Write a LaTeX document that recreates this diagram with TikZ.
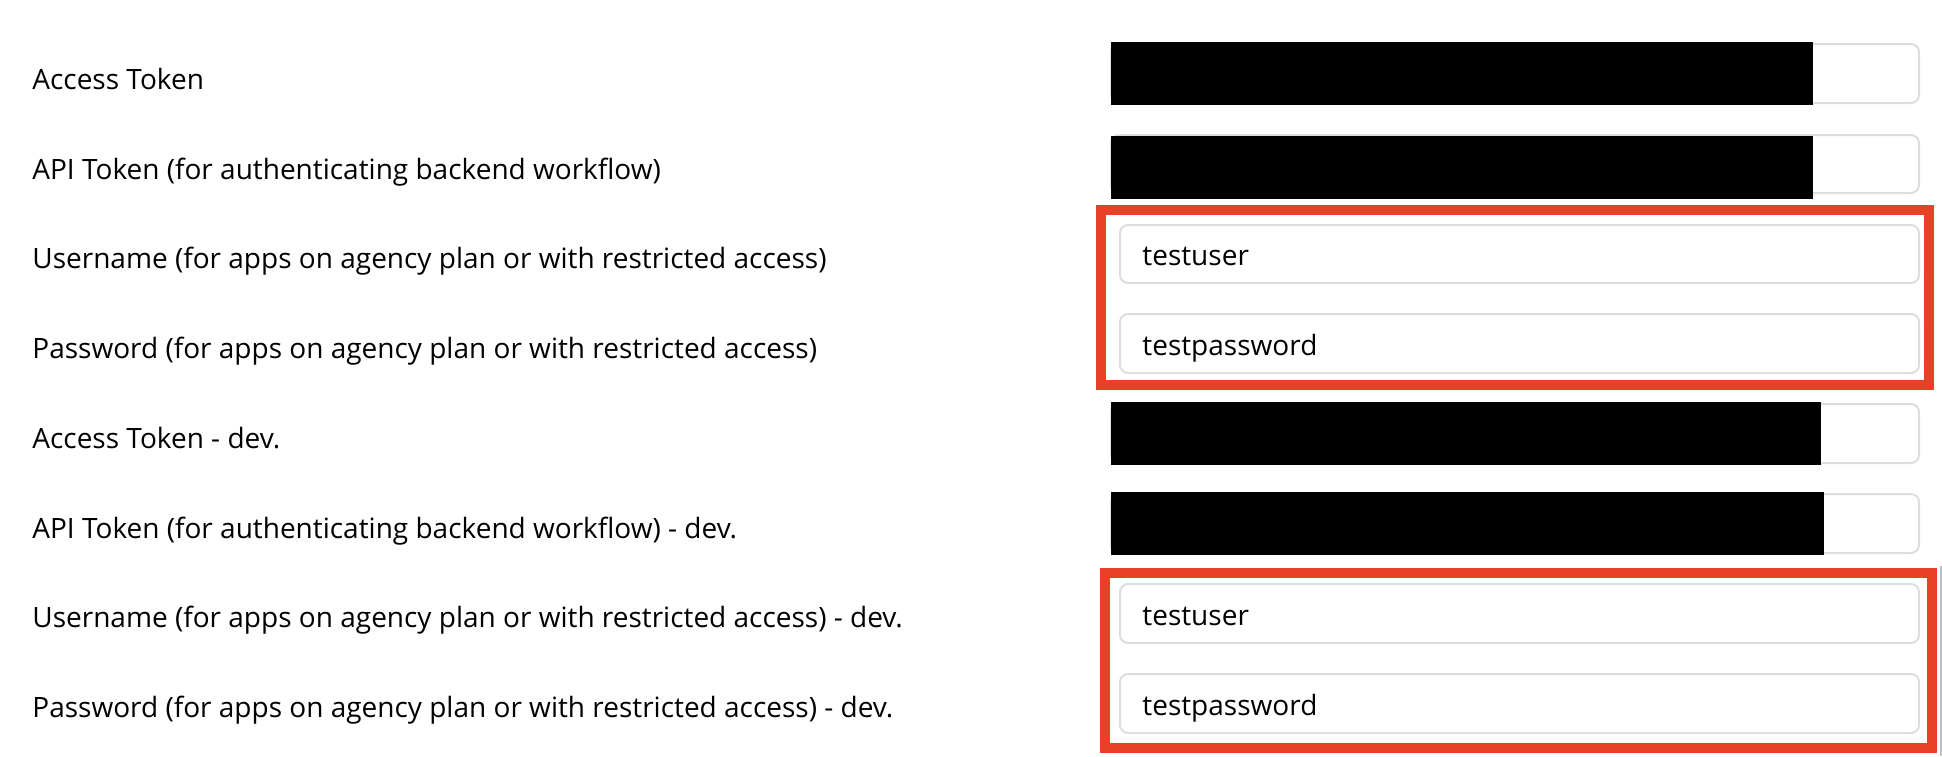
\documentclass[tikz,border=0pt]{standalone}
\usepackage{fontspec}
\setmainfont{Open Sans}
\usepackage{xcolor}
\usepackage{tikz}
\usetikzlibrary{positioning}
\definecolor{markred}{RGB}{233,64,40}
\definecolor{fieldgrey}{RGB}{221,221,221}
\definecolor{bargrey}{RGB}{190,190,190}
\tikzset{
    rowlabel/.style={anchor=base west, inner sep=0pt, font=\fontsize{14pt}{16pt}\selectfont},
    fieldtext/.style={anchor=base west, inner sep=0pt, font=\fontsize{14pt}{16pt}\selectfont},
    field/.style={draw=fieldgrey, line width=1pt, rounded corners=4pt, fill=white},
    redacted/.style={fill=black},
    highlight/.style={draw=markred, line width=5pt}
}
\begin{document}
\begin{tikzpicture}[x=0.5pt,y=-0.5pt]
    \useasboundingbox (0,0) rectangle (1942,756);
    % Labels
    \foreach \i/\y/\t in {1/89/{Access Token},
                          2/179/{API Token (for authenticating backend workflow)},
                          3/268/{Username (for apps on agency plan or with restricted access)},
                          4/358/{Password (for apps on agency plan or with restricted access)},
                          5/448/{Access Token - dev.},
                          6/538/{API Token (for authenticating backend workflow) - dev.},
                          7/627/{Username (for apps on agency plan or with restricted access) - dev.},
                          8/717/{Password (for apps on agency plan or with restricted access) - dev.}}
        \node[rowlabel] (lab\i) at (32,\y) {\t};
    
    % Token fields
    \foreach \i/\a/\b in {1/44/103, 2/135/193, 5/404/463, 6/494/553}
        \draw[field] (1111,\a) rectangle (1919,\b);
    \fill[redacted] (1111,42) rectangle (1813,105);
    \fill[redacted] (1111,136) rectangle (1813,199);
    \fill[redacted] (1111,402) rectangle (1821,465);
    \fill[redacted] (1111,492) rectangle (1824,555);
    
    % Login fields
    \foreach \i/\a/\b/\t in {3/225/283/testuser, 4/314/373/testpassword,
                             7/584/643/testuser, 8/674/733/testpassword} {
        \draw[field] (1120,\a) rectangle (1919,\b);
        \node[fieldtext] (val\i) at (1142,\b-18) {\t};
    }
    
    % Highlights
    \draw[highlight] (1101,210) rectangle (1929,385);
    \draw[highlight] (1105,573) rectangle (1932,748);
    \draw[bargrey, line width=1pt] (1941,566) -- (1941,756);
\end{tikzpicture}
\end{document}
